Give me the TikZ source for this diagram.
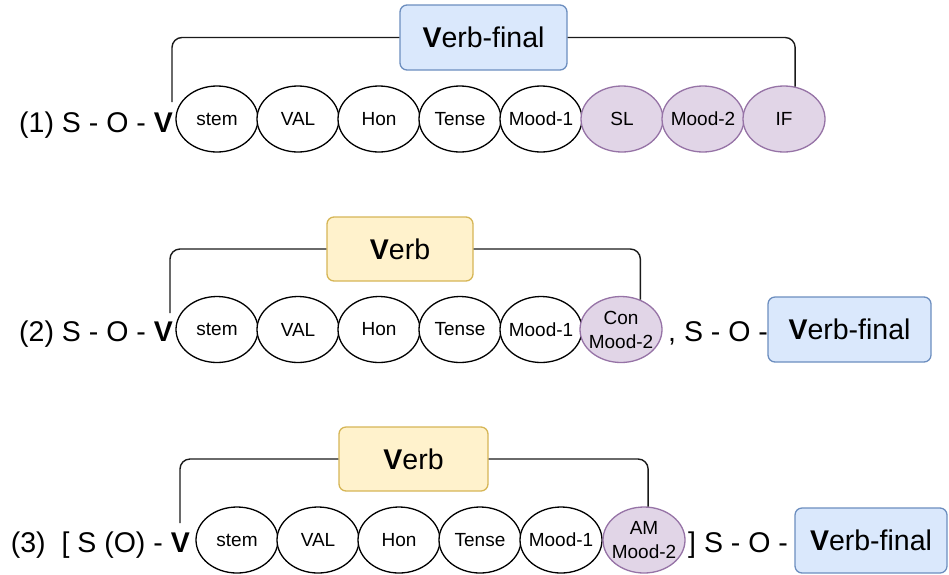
\documentclass[tikz,border=0pt]{standalone}
\usepackage{fontspec}
\setmainfont{Liberation Sans}
\usetikzlibrary{shapes.geometric,calc}
\definecolor{bluefill}{HTML}{DAE8FC}
\definecolor{bluedraw}{HTML}{6C8EBF}
\definecolor{yelfill}{HTML}{FFF2CC}
\definecolor{yeldraw}{HTML}{D6B656}
\definecolor{purfill}{HTML}{E1D5E7}
\definecolor{purdraw}{HTML}{9673A6}
\definecolor{linecol}{HTML}{1A1A1A}
\tikzset{
  morph/.style={ellipse, draw=black, fill=white, line width=1.3pt, minimum width=82pt, minimum height=66pt, inner xsep=-10pt, inner ysep=-6pt, font=\fontsize{19}{24}\selectfont, align=center},
  pmorph/.style={morph, draw=purdraw, fill=purfill},
  bluebox/.style={draw=bluedraw, fill=bluefill, line width=1.3pt, rounded corners=7pt, inner sep=0pt, font=\fontsize{28.5}{34}\selectfont},
  yelbox/.style={draw=yeldraw, fill=yelfill, line width=1.3pt, rounded corners=7pt, inner sep=0pt, font=\fontsize{28.5}{34}\selectfont},
  bigtext/.style={inner sep=0pt, font=\fontsize{28.5}{34}\selectfont},
  conn/.style={draw=linecol, line width=1.4pt, rounded corners=10pt},
}
\begin{document}
\begin{tikzpicture}[x=1pt,y=-1pt]
\useasboundingbox (0,0) rectangle (949,574);

% ---------- Row 1 ----------
\node[bigtext, anchor=base east] (t1) at (173,132) {(1) S - O - \textbf{V}};
\foreach \i/\lab in {1/stem,2/VAL,3/Hon,4/Tense,5/Mood-1}{
  \node[morph] (a\i) at ({217+81*(\i-1)},119) {\lab};
}
\node[pmorph] (a6) at (622,119) {SL};
\node[pmorph] (a7) at (703,119) {Mood-2};
\node[pmorph] (a8) at (784,119) {IF};
\node[bluebox, minimum width=167pt, minimum height=65pt] (vf1) at (483.5,37.5) {\textbf{V}erb-final};
\coordinate (l1) at (172,102);
\draw[conn] (l1) |- (vf1.west);
\draw[conn] (vf1.east) -| (a8.71);

% ---------- Row 2 ----------
\node[bigtext, anchor=base east] (t2) at (173,341) {(2) S - O - \textbf{V}};
\foreach \i/\lab in {1/stem,2/VAL,3/Hon,4/Tense,5/Mood-1}{
  \node[morph] (b\i) at ({217+81*(\i-1)},329.5) {\lab};
}
\node[pmorph] (b6) at (621,329.5) {Con\\Mood-2};
\node[yelbox, minimum width=146pt, minimum height=64pt] (vb2) at (400,249) {\textbf{V}erb};
\coordinate (l2) at (170,313);
\draw[conn] (l2) |- (vb2.west);
\draw[conn] (vb2.east) -| (b6.57);
\node[bigtext, anchor=base west] (s2) at (668,341) {, S - O -};
\node[bluebox, minimum width=163pt, minimum height=65pt] (vf2) at (849.5,329.5) {\textbf{V}erb-final};

% ---------- Row 3 ----------
\node[bigtext, anchor=base east] (t3) at (190,552) {(3)\ \ [ S (O) - \textbf{V}};
\foreach \i/\lab in {1/stem,2/VAL,3/Hon,4/Tense,5/Mood-1}{
  \node[morph] (c\i) at ({237+81*(\i-1)},540) {\lab};
}
\node[pmorph] (c6) at (644,540) {AM\\Mood-2};
\node[yelbox, minimum width=149pt, minimum height=64pt] (vb3) at (413.5,459) {\textbf{V}erb};
\coordinate (l3) at (180,523);
\draw[conn] (l3) |- (vb3.west);
\draw[conn] (vb3.east) -| (c6.83);
\node[bigtext, anchor=base west] (s3) at (688,552) {] S - O -};
\node[bluebox, minimum width=152pt, minimum height=65pt] (vf3) at (871,540.5) {\textbf{V}erb-final};
\end{tikzpicture}
\end{document}
